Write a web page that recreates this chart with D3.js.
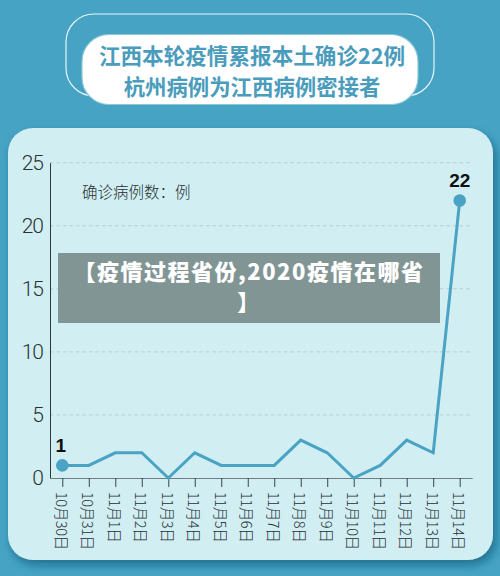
<!DOCTYPE html>
<html><head><meta charset="utf-8">
<script src="https://cdn.jsdelivr.net/npm/d3@7/dist/d3.min.js"></script>
<style>html,body{margin:0;padding:0;background:#47a3c4}svg{display:block}</style>
</head><body><svg id="c" width="500" height="576"></svg>
<script>
const categories=["10月30日","10月31日","11月1日","11月2日","11月3日","11月4日","11月5日","11月6日","11月7日","11月8日","11月9日","11月10日","11月11日","11月12日","11月13日","11月14日"];
const cases=[1,1,2,2,0,2,1,1,1,3,2,0,1,3,2,22];
const yTicks=[0,5,10,15,20,25];
const titleLines=["江西本轮疫情累报本土确诊22例","杭州病例为江西病例密接者"];
const unitLabel="确诊病例数：例";
const bannerLines=["【疫情过程省份,2020疫情在哪省","】"];
const sans="'Noto Sans CJK SC','Liberation Sans',sans-serif";
const svg=d3.select("#c");
const defs=svg.append("defs");
const f=defs.append("filter").attr("id","sh").attr("x","-10%").attr("y","-10%").attr("width","120%").attr("height","120%");
f.append("feDropShadow").attr("dx",3).attr("dy",5).attr("stdDeviation",5).attr("flood-color","#145f7e").attr("flood-opacity",.75);
svg.append("rect").attr("width",500).attr("height",576).attr("fill","#47a3c4");
// header
svg.append("rect").attr("x",66).attr("y",14).attr("width",368).attr("height",82).attr("rx",28).attr("fill","none").attr("stroke","#e6f5f8").attr("stroke-width",1.2);
svg.append("rect").attr("x",82).attr("y",34.5).attr("width",336).attr("height",70).attr("rx",27).attr("fill","#fff").attr("stroke","#8cc9d6").attr("stroke-width",1.2);
svg.selectAll("text.t").data(titleLines).join("text").attr("class","t")
 .attr("x",252).attr("y",(d,i)=>[64,95][i]).attr("text-anchor","middle")
 .attr("font-family",sans).attr("font-weight",700).attr("font-size",(d,i)=>i?21.4:21.6).attr("fill","#4a9cbd").text(d=>d);
// panel
svg.append("rect").attr("x",8).attr("y",128).attr("width",485).attr("height",432).attr("rx",25).attr("fill","#d1eef3").attr("filter","url(#sh)");
const x=d3.scalePoint().domain(categories).range([62.3,459.7]);
const y=d3.scaleLinear().domain([0,25]).range([478,162.7]);
// grid
const g=svg.append("g");
g.selectAll("line.g").data(yTicks.filter(d=>d>0)).join("line").attr("class","g")
 .attr("x1",50).attr("x2",471).attr("y1",d=>y(d)).attr("y2",d=>y(d))
 .attr("stroke","#b9cdd1").attr("stroke-width",1).attr("stroke-dasharray","3.5 3");
// y axis
const ya=svg.append("g").attr("transform","translate(50,0)").call(d3.axisLeft(y).tickValues(yTicks).tickSize(0).tickPadding(7));
ya.select(".domain").attr("stroke","#2c363b").attr("stroke-width",1);
ya.selectAll("text").attr("font-family","Roboto,'Liberation Sans',sans-serif").attr("font-weight",300).attr("font-size",21).attr("fill","#2b3235").attr("dy",".3em").style("letter-spacing","-1px");
// x axis
const xa=svg.append("g").attr("transform","translate(0,478)").call(d3.axisBottom(x).tickSize(9).tickSizeOuter(0).tickFormat(""));
xa.select(".domain").attr("d","M50,0.5H472.7").attr("stroke","#6d7f85").attr("stroke-width",1.2);
xa.selectAll("line").attr("stroke","#3a454a").attr("stroke-width",1);
svg.selectAll("text.xl").data(categories).join("text").attr("class","xl")
 .attr("transform",d=>`translate(${x(d)},492) rotate(90)`)
 .attr("font-family","'Noto Sans CJK SC','Liberation Sans',sans-serif").attr("font-size",14.5).attr("font-weight",300)
 .attr("dominant-baseline","central").attr("fill","#262e32").style("letter-spacing","-.4px").text(d=>d);
// unit
svg.append("text").attr("x",82).attr("y",198).attr("font-family",sans).attr("font-size",15.5).attr("font-weight",300).attr("fill","#262e32").text(unitLabel);
// line
const line=d3.line().x((d,i)=>x(categories[i])).y(d=>y(d));
svg.append("path").datum(cases).attr("d",line).attr("fill","none").attr("stroke","#4aa3c4").attr("stroke-width",3);
const last=cases.length-1;
svg.selectAll("circle.p").data([0,last]).join("circle").attr("class","p")
 .attr("cx",i=>x(categories[i])).attr("cy",i=>y(cases[i])).attr("r",6.3).attr("fill","#4aa3c4");
svg.selectAll("text.v").data([0,last]).join("text").attr("class","v")
 .attr("x",i=>x(categories[i])-(i?0:1.5)).attr("y",i=>y(cases[i])-(i?14:13)).attr("text-anchor","middle")
 .attr("font-family","'Liberation Sans',sans-serif").attr("font-weight",700).attr("font-size",19).attr("fill","#111").text(i=>cases[i]);
// banner
svg.append("rect").attr("x",58).attr("y",253).attr("width",382).attr("height",70).attr("fill","#829595");
svg.selectAll("text.b").data(bannerLines).join("text").attr("class","b")
 .attr("x",249).attr("y",(d,i)=>[280,310][i]).attr("text-anchor","middle")
 .attr("font-family",sans).attr("font-weight",900).attr("font-size",22).style("letter-spacing","1.5px").attr("fill","#fff").text(d=>d);
</script></body></html>
